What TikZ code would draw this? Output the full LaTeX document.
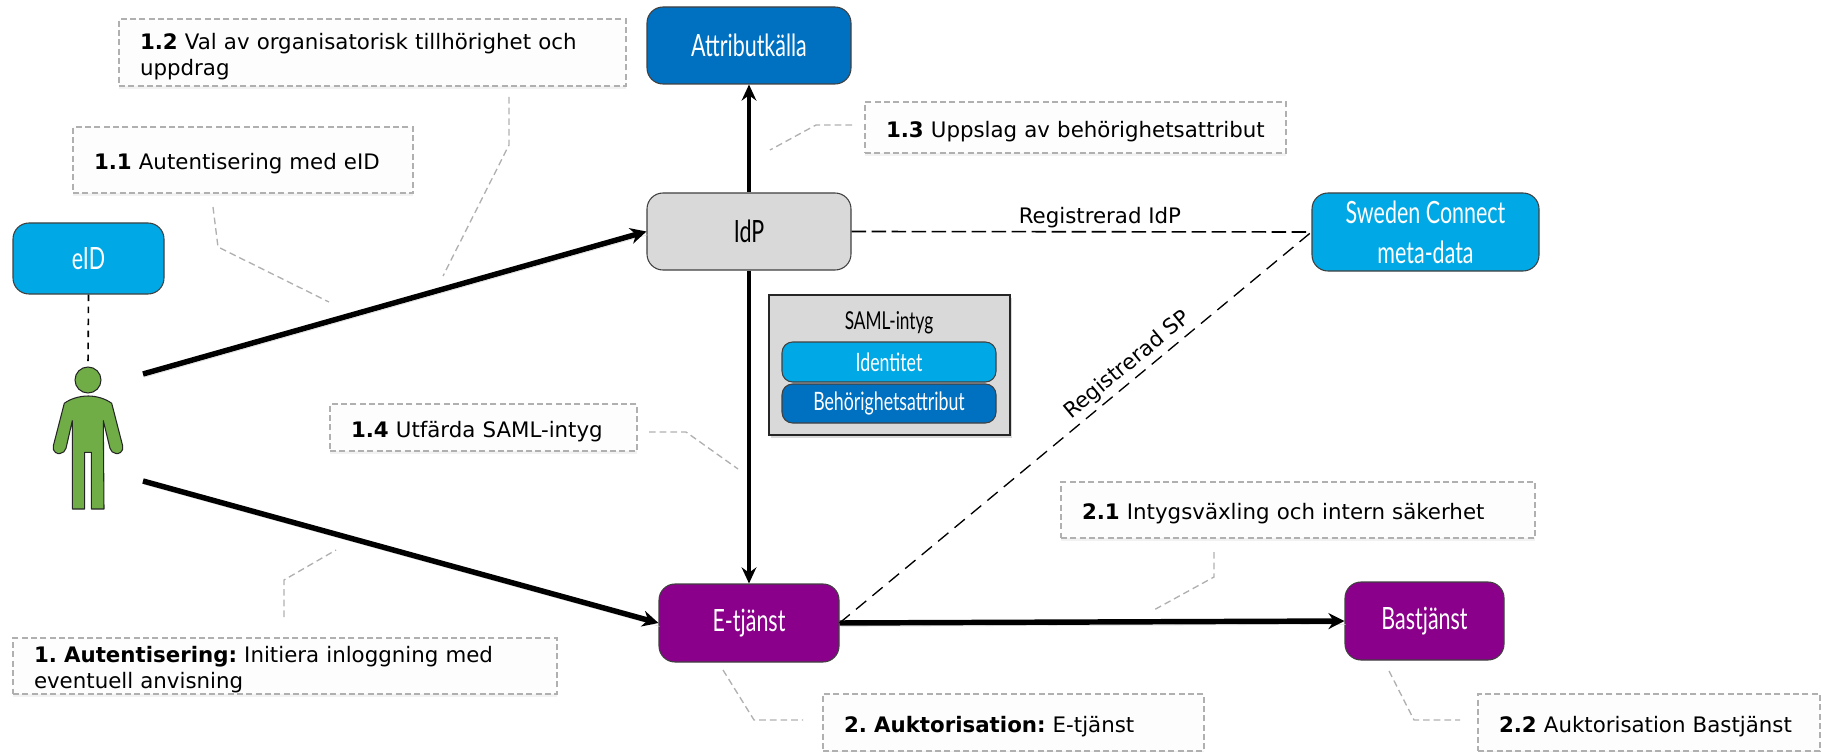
\documentclass[tikz,border=0pt]{standalone}
\usepackage{fontspec}
\usepackage{xcolor}
\usetikzlibrary{arrows.meta,shadows}
\setmainfont{DejaVu Sans}
\newfontfamily\boxfont[FakeStretch=0.70]{Lato}
\frenchspacing
\newcommand{\PxUnit}{0.75pt}
\definecolor{EidColor}{HTML}{00A9E6}
\definecolor{AttrColor}{HTML}{0070C0}
\definecolor{ServiceColor}{HTML}{8B008B}
\definecolor{IdpColor}{HTML}{D9D9D9}
\definecolor{UserColor}{HTML}{70AD47}
\definecolor{NoteColor}{HTML}{FDFDFD}
\definecolor{LeaderColor}{HTML}{B0B0B0}
\newcommand{\PlaceBox}[8][sysbox]{%
  % #2 name, #3 left, #4 top, #5 right, #6 bottom, #7 fill color, #8 text
  \node[#1,fill=#7,minimum width=(#5-#3)*\PxUnit,minimum height=(#6-#4)*\PxUnit] (#2) at ({(#3+#5)/2},{(#4+#6)/2}) {#8};
}
\newcommand{\PlaceNote}[6]{%
  % #1 name, #2 left, #3 top, #4 right, #5 bottom, #6 text
  \node[note,minimum height=(#5-#3)*\PxUnit,text width=(#4-#2-42)*\PxUnit] (#1) at ({(#2+#4)/2},{(#3+#5)/2}) {\vskip-1.5pt\relax #6};
}
\newcommand{\PlaceLeader}[7]{%
  % #1 prefix, then the three corner points
  \coordinate (#1a) at (#2,#3);
  \coordinate (#1b) at (#4,#5);
  \coordinate (#1c) at (#6,#7);
  \draw[leader] (#1a) -- (#1b) -- (#1c);
}

\begin{document}
\begin{tikzpicture}[
  x=0.75pt,y=-0.75pt,
  sysbox/.style={draw=black!75,line width=0.8pt,rounded corners=12pt,text=white,inner sep=0pt,align=center,font=\boxfont\fontsize{23}{30}\selectfont},
  partbox/.style={sysbox,rounded corners=8pt,font=\boxfont\fontsize{19}{20}\selectfont},
  samlbox/.style={draw=black!85,line width=1.5pt,fill=IdpColor,minimum width=241*\PxUnit,minimum height=140*\PxUnit,inner sep=0pt,drop shadow={opacity=0.3,shadow xshift=1.5pt,shadow yshift=-2.5pt}},
  note/.style={draw=LeaderColor,line width=1pt,dash pattern=on 4.5pt off 2.5pt,fill=NoteColor,inner xsep=21*\PxUnit,inner ysep=0pt,align=left,font=\fontsize{16}{19.5}\selectfont,drop shadow={opacity=0.1,shadow xshift=0pt,shadow yshift=-2.5pt}},
  leader/.style={draw=LeaderColor,line width=1pt,dash pattern=on 5pt off 3pt},
  flow/.style={line width=4.1pt,-{Stealth[length=12pt,width=12pt]},preaction={draw=black!14,arrows=-,transform canvas={xshift=0.8pt,yshift=-2.5pt}}},
  flowthin/.style={line width=3.4pt,-{Stealth[length=12pt,width=11pt]}},
  link/.style={black,line width=1.2pt,dash pattern=on 11pt off 4pt},
  linkthin/.style={black,line width=1pt,dash pattern=on 10pt off 6pt},
  tie/.style={black,line width=1.2pt,dash pattern=on 5pt off 4pt},
  linklabel/.style={font=\fontsize{16}{19}\selectfont,inner sep=0pt}
]
\useasboundingbox (0,0) rectangle (1822,752);

% Free ends at the user
\coordinate (userout) at (143,374);
\coordinate (userin) at (143,481);

% Systems
\PlaceBox{attr}{647}{7}{851}{84}{AttrColor}{Attributkälla}
\PlaceBox[sysbox,text=black]{idp}{647}{193}{851}{270}{IdpColor}{IdP}
\PlaceBox{eid}{13}{223}{164}{294}{EidColor}{eID}
\PlaceBox{meta}{1312}{193}{1539}{271}{EidColor}{Sweden Connect\\meta-data}
\PlaceBox{etj}{659}{584}{839}{662}{ServiceColor}{E-tjänst}
\PlaceBox{bas}{1345}{582}{1504}{660}{ServiceColor}{Bastjänst}

% SAML assertion
\node[samlbox] (saml) at (889.5,365) {};
\node[font=\boxfont\fontsize{18.5}{20}\selectfont,inner sep=0pt] (samltitle) at (889,323) {SAML-intyg};
\PlaceBox[partbox]{ident}{782}{342}{996}{382}{EidColor}{Identitet}
\PlaceBox[partbox]{behor}{782}{384}{996}{423}{AttrColor}{Behörighetsattribut}

% User
\node[circle,draw=black!85,line width=0.8pt,fill=UserColor,minimum size=26*\PxUnit,inner sep=0pt] (head) at (88,380) {};
\draw[draw=black!85,line width=0.8pt,fill=UserColor,line join=round]
  (88.3,396) .. controls (97,396) and (106,399) .. (111.7,403.3)
  -- (122.7,446) .. controls (124,452) and (118,454.5) .. (116,453.5)
  .. controls (113,453.5) and (111,451) .. (110,448.3)
  -- (103.3,420.7) -- (104,509) -- (91.3,509) -- (91.3,452.3) -- (84.7,452.3) -- (84.7,509) -- (72.3,509) -- (72.3,420.7)
  -- (66,448.3) .. controls (65,451) and (63,453.5) .. (60,453.5)
  .. controls (58,454.5) and (52,452) .. (53.3,446)
  -- (64.3,403.3) .. controls (70,399) and (79,396) .. (88.3,396) -- cycle;

% Connectors
\draw[flow] (userout) -- (idp.west);
\draw[flow] (userin) -- (etj.west);
\draw[flow] (etj.east) -- (bas.west);
\draw[flowthin] (idp.north) -- (attr.south);
\draw[flowthin] (idp.south) -- (etj.north);
\draw[tie] (eid.south) -- (head.north);
\draw[link] (idp.east) -- node[linklabel,pos=0.54,above=2.5pt] (lblidp) {Registrerad IdP} (meta.west);
\draw[linkthin] (etj.east) -- node[linklabel,pos=0.63,sloped,above=3pt] (lblsp) {Registrerad SP} (meta.west);

% Callouts
\PlaceNote{noteA}{119}{19}{626}{86}{\textbf{1.2} Val av organisatorisk tillhörighet och\\uppdrag}
\PlaceNote{noteB}{73}{127}{413}{193}{\textbf{1.1} Autentisering med eID}
\PlaceNote{noteC}{865}{102}{1286}{153}{\textbf{1.3} Uppslag av behörighetsattribut}
\PlaceNote{noteD}{330}{404}{637}{451}{\textbf{1.4} Utfärda SAML-intyg}
\PlaceNote{noteE}{13}{638}{557}{694}{\textbf{1. Autentisering:} Initiera inloggning med\\eventuell anvisning}
\PlaceNote{noteF}{823}{694}{1204}{751}{\textbf{2. Auktorisation:} E-tjänst}
\PlaceNote{noteG}{1061}{482}{1535}{538}{\textbf{2.1} Intygsväxling och intern säkerhet}
\PlaceNote{noteH}{1478}{694}{1820}{751}{\textbf{2.2} Auktorisation Bastjänst}

% Leader lines
\PlaceLeader{leadA}{509}{97}{509}{145}{443}{276}
\PlaceLeader{leadB}{213}{207}{218}{247}{329}{302}
\PlaceLeader{leadC}{852}{125}{816}{125}{770}{150}
\PlaceLeader{leadD}{649}{432}{686}{432}{738}{469}
\PlaceLeader{leadE}{284}{617}{284}{580}{336}{550}
\PlaceLeader{leadF}{723}{670}{754}{720}{803}{720}
\PlaceLeader{leadG}{1214}{552}{1214}{577}{1152}{611}
\PlaceLeader{leadH}{1389}{671}{1414}{720}{1460}{720}

\end{tikzpicture}
\end{document}
